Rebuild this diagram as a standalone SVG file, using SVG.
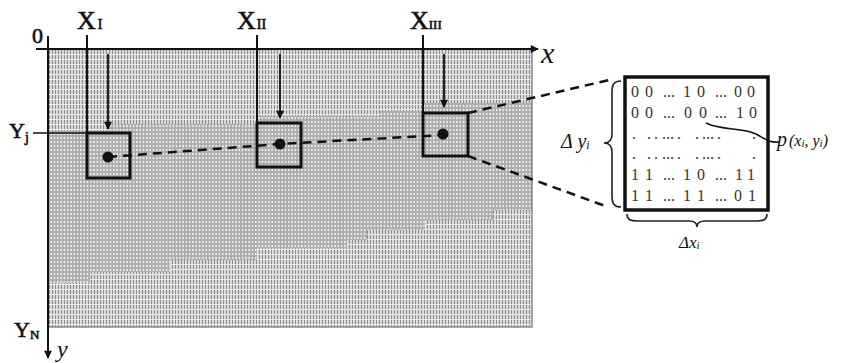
<svg xmlns="http://www.w3.org/2000/svg" width="850" height="363" viewBox="0 0 850 363">
<style>
.lbl{font-family:"Liberation Serif","Times New Roman",serif;fill:#111}
.b{stroke:#111;stroke-width:0.6}
.it{font-style:italic}
.mx{font-family:"Liberation Serif","Times New Roman",serif;font-size:16px;fill:#333}
.box{fill:none;stroke:#111;stroke-width:3}
.ln{stroke:#111;stroke-width:2;fill:none}
.dash{stroke:#111;stroke-width:2.5;stroke-dasharray:9 6;fill:none}
.brace{fill:none;stroke:#222;stroke-width:1.6}
</style>
<defs>
<pattern id="stripe" width="3" height="5" patternUnits="userSpaceOnUse">
<rect width="3" height="5" fill="#dadada"/>
<rect x="1" y="0" width="1" height="4" fill="#8a8a8a"/>
<rect x="0" y="4" width="3" height="1" fill="#ececec"/>
</pattern>
<pattern id="dots" width="3.3" height="4" patternUnits="userSpaceOnUse">
<rect width="3.3" height="4" fill="#ababab"/>
<ellipse cx="1.65" cy="2" rx="0.85" ry="1.2" fill="#f4f4f4"/>
</pattern>
<marker id="ah" viewBox="0 0 10 10" refX="9" refY="5" markerWidth="10" markerHeight="8" markerUnits="userSpaceOnUse" orient="auto">
<path d="M0,0 L10,5 L0,10 Z" fill="#111"/>
</marker>
</defs>

<g id="image-grid">
<rect x="48" y="49" width="484" height="278" fill="url(#dots)"/>
<path d="M48,49 H532 V103 H423 V111 H380 V116 H257 V124 H110 V131 H48 Z" fill="url(#stripe)"/>
<path d="M48,283 H90 V272 H170 V260 H257 V248 H347 V240 H367 V230 H425 V220 H493 V210 H532 V327 H48 Z" fill="url(#stripe)"/>
<path d="M48,327 H532 V49" fill="none" stroke="#8a8a8a" stroke-width="1.5"/>
</g>

<g id="axes">
<line x1="36" y1="49" x2="538" y2="49" class="ln" marker-end="url(#ah)"/>
<line x1="48" y1="36" x2="48" y2="358" class="ln" marker-end="url(#ah)"/>
<text class="lbl b" x="32" y="43" font-size="22">0</text>
<text class="lbl it" x="541" y="63" font-size="30">x</text>
<text class="lbl it" x="57" y="357" font-size="24">y</text>
</g>

<g id="label-XI">
<text class="lbl b" x="77" y="29" font-size="26">X<tspan font-size="14" dx="2">I</tspan></text>
<line x1="87" y1="35" x2="87" y2="133" class="ln"/>
</g>
<g id="label-XII">
<text class="lbl b" x="237" y="29" font-size="26">X<tspan font-size="14" dx="1">II</tspan></text>
<line x1="257" y1="35" x2="257" y2="123" class="ln"/>
</g>
<g id="label-XIII">
<text class="lbl b" x="410" y="29" font-size="26">X<tspan font-size="13" dx="0">III</tspan></text>
<line x1="423" y1="35" x2="423" y2="113" class="ln"/>
</g>

<g id="label-Yj">
<text class="lbl b" x="9" y="138" font-size="22">Y<tspan font-size="14" dy="4">j</tspan></text>
<line x1="33" y1="133" x2="87" y2="133" stroke="#111" stroke-width="1.5"/>
</g>
<g id="label-YN">
<text class="lbl b" x="14" y="337" font-size="22">Y<tspan font-size="13" dy="2">N</tspan></text>
</g>

<g id="window-1">
<rect class="box" x="87" y="133" width="43" height="45"/>
<circle cx="108" cy="157" r="5.5" fill="#111"/>
</g>
<g id="window-2">
<rect class="box" x="257" y="123" width="44" height="44"/>
<circle cx="280" cy="144" r="5.5" fill="#111"/>
</g>
<g id="window-3">
<rect class="box" x="423" y="113" width="45" height="43"/>
<circle cx="443" cy="134" r="5.5" fill="#111"/>
</g>

<g id="matrix">
<rect x="625" y="77" width="143" height="133" fill="#fff" stroke="#111" stroke-width="3.5"/>
<text class="mx" y="97"><tspan x="631">0</tspan><tspan x="645">0</tspan><tspan x="663">...</tspan><tspan x="683">1</tspan><tspan x="697">0</tspan><tspan x="715">...</tspan><tspan x="734">0</tspan><tspan x="747">0</tspan></text>
<text class="mx" y="118"><tspan x="631">0</tspan><tspan x="645">0</tspan><tspan x="663">...</tspan><tspan x="684">0</tspan><tspan x="699">0</tspan><tspan x="715">...</tspan><tspan x="736">1</tspan><tspan x="749">0</tspan></text>
<text class="mx" y="139"><tspan x="632">.</tspan><tspan x="647">.</tspan><tspan x="654">.</tspan><tspan x="662">...</tspan><tspan x="677">.</tspan><tspan x="695">.</tspan><tspan x="702">...</tspan><tspan x="717">.</tspan><tspan x="752">.</tspan></text>
<text class="mx" y="159"><tspan x="632">.</tspan><tspan x="647">.</tspan><tspan x="654">.</tspan><tspan x="662">...</tspan><tspan x="677">.</tspan><tspan x="695">.</tspan><tspan x="702">...</tspan><tspan x="717">.</tspan><tspan x="752">.</tspan></text>
<text class="mx" y="180"><tspan x="631">1</tspan><tspan x="645">1</tspan><tspan x="663">...</tspan><tspan x="683">1</tspan><tspan x="697">0</tspan><tspan x="715">...</tspan><tspan x="735">1</tspan><tspan x="747">1</tspan></text>
<text class="mx" y="201"><tspan x="631">1</tspan><tspan x="645">1</tspan><tspan x="663">...</tspan><tspan x="683">1</tspan><tspan x="697">1</tspan><tspan x="715">...</tspan><tspan x="734">0</tspan><tspan x="748">1</tspan></text>
</g>

<g id="brace-y">
<path class="brace" d="M621,81 C613,81 612,86 612,92 L612,134 C612,140 609,143 604,143 C609,143 612,146 612,152 L612,196 C612,202 613,207 621,207"/>
<text class="lbl it" x="561" y="148" font-size="20">Δ y<tspan font-size="12" dy="1">i</tspan></text>
</g>
<g id="brace-x">
<path class="brace" d="M627,214 C627,220 631,221 637,221 L689,221 C694,221 697,223 697,227 C697,223 700,221 705,221 L757,221 C763,221 767,220 767,214"/>
<text class="lbl it" x="679" y="248" font-size="17">Δx<tspan font-size="11" dy="1">i</tspan></text>
</g>
<g id="label-p">
<text class="lbl it" x="777" y="146" font-size="20">p<tspan font-size="16" dx="2">(x</tspan><tspan font-size="11" dy="1">i</tspan><tspan font-size="16" dy="-1">, y</tspan><tspan font-size="11" dy="1">i</tspan><tspan font-size="16" dy="-1">)</tspan></text>
</g>

<g id="connectors">
<line x1="108" y1="54" x2="108" y2="129" stroke="#111" stroke-width="1.8" marker-end="url(#ah)"/>
<line x1="280" y1="54" x2="280" y2="118" stroke="#111" stroke-width="1.8" marker-end="url(#ah)"/>
<line x1="444" y1="54" x2="444" y2="107" stroke="#111" stroke-width="1.8" marker-end="url(#ah)"/>
<polyline class="dash" points="108,157 280,144 443,135"/>
<line class="dash" x1="468" y1="113" x2="609" y2="80"/>
<line class="dash" x1="468" y1="156" x2="608" y2="207"/>
<path d="M706,123 C722,131 742,127 756,134 C764,138 768,143 779,142" fill="none" stroke="#111" stroke-width="1.6"/>
</g>
</svg>
